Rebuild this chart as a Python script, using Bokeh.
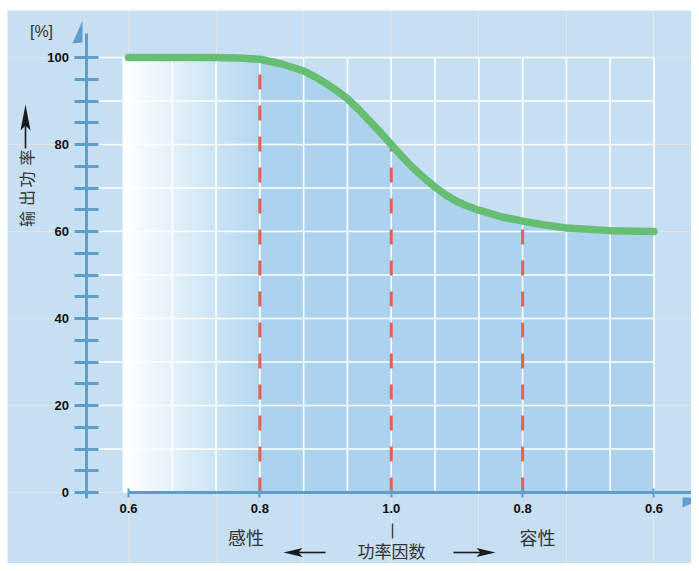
import numpy as np
from bokeh.plotting import figure
from bokeh.models import Range1d, LinearAxis, FixedTicker
from bokeh.core.properties import value
from bokeh.embed import file_html
from bokeh.resources import INLINE

# ---------------- data ----------------
pf_ticks = [0, 3, 6, 9, 12]                       # positions of the power-factor ticks
pf_labels = ["0.6", "0.8", "1.0", "0.8", "0.6"]   # inductive 0.6 .. 1.0 .. capacitive 0.6
pf_pos = [0, 1, 2, 2.5, 3, 3.5, 4, 4.25, 4.5, 4.75, 5, 5.25, 5.5, 5.75, 6, 6.25, 6.5,
          6.75, 7, 7.25, 7.5, 7.75, 8, 8.5, 9, 9.5, 10, 11, 12]
output_pct = [100, 100, 100, 99.9, 99.6, 98.5, 96.9, 95.6, 94.1, 92.4, 90.5, 88.1, 85.5,
              82.8, 80.0, 77.2, 74.6, 72.3, 70.2, 68.4, 66.9, 65.8, 64.9, 63.4, 62.4,
              61.5, 60.8, 60.2, 60.0]
marker_pf = [3, 6, 9]                             # 0.8 ind., 1.0, 0.8 cap.
y_major = [0, 20, 40, 60, 80, 100]
y_minor = [5, 10, 15, 25, 30, 35, 45, 50, 55, 65, 70, 75, 85, 90, 95]
y_grid = [10, 20, 30, 40, 50, 60, 70, 80, 90, 100]
x_grid = [0, 1, 2, 3, 4, 5, 6, 7, 8, 9, 10, 11, 12]

# ---------------- styles ----------------
BG = "#C7DFF2"
FILL = "#ACD2EE"
GRAD_END = (180, 215, 240)
AX = "#5E9FCA"
RED = "#E8604B"
GREEN = "#66BE72"
TXT = "#333333"
CJK = value("Noto Sans CJK SC")
LAT = value("Liberation Sans")

# picture pixel -> data helpers for decorations
PX_U, X0 = 43.79, 128.0
PY_V, Y0 = 4.35, 492.0
def dx(px):
    return (px - X0) / PX_U
def dy(py):
    return (Y0 - py) / PY_V

W, H = 691, 563
p = figure(width=W, height=H, title=None,
           x_range=Range1d(dx(7), dx(W)), y_range=Range1d(dy(H), dy(10)),
           x_axis_location=None, y_axis_location=None,
           toolbar_location=None, output_backend="svg",
           min_border_left=7, min_border_top=10, min_border_right=0, min_border_bottom=0,
           background_fill_color=BG, border_fill_color="white", outline_line_color=None)

# ---- area under curve: solid + left gradient ----
p.varea(x=pf_pos, y1=0, y2=output_pct, fill_color=FILL)
g0, g1 = dx(122), marker_pf[0]
N = 46
edges = np.linspace(g0, g1, N + 1)
w = edges[1] - edges[0]
lefts = edges[:-1]
rights = edges[1:] + w * 0.4
rights[-1] = edges[-1]
tops = np.maximum(np.interp(lefts, pf_pos, output_pct), np.interp(edges[1:], pf_pos, output_pct))
cols = []
for i in range(N):
    t = (i + 0.5) / N
    r = int(round(255 + (GRAD_END[0] - 255) * t))
    g = int(round(255 + (GRAD_END[1] - 255) * t))
    b = int(round(255 + (GRAD_END[2] - 255) * t))
    cols.append("#%02x%02x%02x" % (r, g, b))
p.quad(left=lefts, right=rights, bottom=0, top=tops, fill_color=cols, line_color=None)

# ---- grid ----
p.segment(x0=dx(97), x1=x_grid[-1], y0=y_grid, y1=y_grid, line_color="white", line_width=1.6)
p.segment(x0=x_grid, x1=x_grid, y0=0, y1=100, line_color="white", line_width=1.6)

# ---- red dashed markers ----
mk_top = np.interp(marker_pf, pf_pos, output_pct)
p.segment(x0=marker_pf, x1=marker_pf, y0=0, y1=mk_top, line_color=RED,
          line_width=3, line_dash="15 16")

# ---- curve ----
p.line(pf_pos, output_pct, line_color=GREEN, line_width=7.5, line_cap="round", line_join="round")

# ---- axes ----
yax = LinearAxis(fixed_location=dx(85.5), bounds=(dy(498), dy(33)),
                 ticker=FixedTicker(ticks=y_major, minor_ticks=y_minor),
                 axis_line_color=AX, axis_line_width=3,
                 major_tick_in=12, major_tick_out=12, minor_tick_in=12, minor_tick_out=12,
                 major_tick_line_color=AX, minor_tick_line_color=AX,
                 major_tick_line_width=3, minor_tick_line_width=3,
                 major_label_standoff=5, major_label_text_font="Liberation Sans",
                 major_label_text_font_style="bold", major_label_text_font_size="13px",
                 major_label_text_color="#111111")
p.add_layout(yax, "left")

xax = LinearAxis(fixed_location=0, bounds=(0, dx(693)),
                 ticker=FixedTicker(ticks=pf_ticks),
                 major_label_overrides=dict(zip(pf_ticks, pf_labels)),
                 axis_line_color=AX, axis_line_width=3,
                 major_tick_in=4, major_tick_out=5, major_tick_line_color=AX,
                 major_tick_line_width=2, minor_tick_line_color=None,
                 major_label_standoff=6, major_label_text_font="Liberation Sans",
                 major_label_text_font_style="bold", major_label_text_font_size="13px",
                 major_label_text_color="#111111")
p.add_layout(xax, "below")

# axis-end wedges
p.patches(xs=[[dx(82), dx(72), dx(82)], [dx(682), dx(682), dx(704)]],
          ys=[[dy(20), dy(43), dy(42)], [dy(497), dy(507), dy(497)]],
          fill_color=AX, line_color=None)

# ---- texts ----
p.text(x=[dx(41)], y=[dy(31)], text=["[%]"], text_font=LAT, text_font_size="16px",
       text_color=TXT, text_align="center", text_baseline="middle")

ylab_chars = ["输", "出", "功", "率"]
ylab_py = [218.5, 197.5, 179, 157]
p.text(x=[dx(25.5)] * 4, y=[dy(v) for v in ylab_py], text=ylab_chars, angle=np.pi / 2,
       text_font=CJK, text_font_size="16px", text_color=TXT,
       text_align="center", text_baseline="middle")

p.text(x=[dx(245.5), dx(537)], y=[dy(536.5), dy(536.5)],
       text=["感性", "容性"], text_font=CJK, text_font_size="18px",
       text_color=TXT, text_align="center", text_baseline="middle")
p.text(x=[dx(391)], y=[dy(550)], text=["功率因数"], text_font=CJK, text_font_size="17px",
       text_color=TXT, text_align="center", text_baseline="middle")

p.segment(x0=[dx(392)], x1=[dx(392)], y0=[dy(523)], y1=[dy(538)], line_color="#444444", line_width=1.5)

# ---- arrows (decorative) ----
ARR = "#1a1a1a"
AY = 552
p.segment(x0=[dx(25), dx(297), dx(453)], x1=[dx(25), dx(325), dx(481)],
          y0=[dy(125), dy(AY), dy(AY)], y1=[dy(148), dy(AY), dy(AY)],
          line_color=ARR, line_width=1.6)
p.patches(xs=[[dx(25), dx(30), dx(25), dx(20)],
              [dx(283), dx(302), dx(298), dx(302)],
              [dx(495), dx(476), dx(480), dx(476)]],
          ys=[[dy(104), dy(130), dy(125), dy(130)],
              [dy(AY), dy(AY - 4.5), dy(AY), dy(AY + 4.5)],
              [dy(AY), dy(AY - 4.5), dy(AY), dy(AY + 4.5)]],
          fill_color=ARR, line_color=None)

open("out.html", "w").write(file_html(p, INLINE))
